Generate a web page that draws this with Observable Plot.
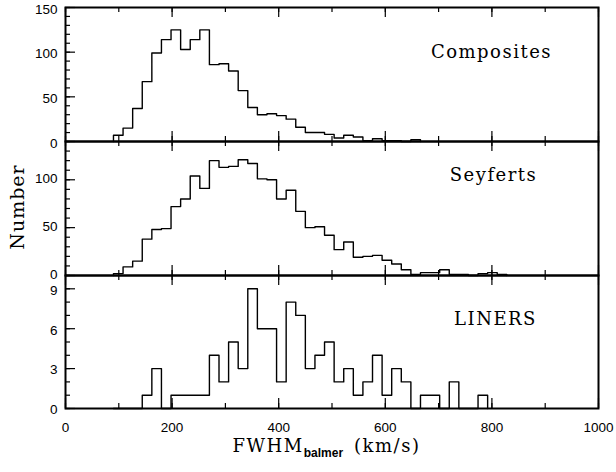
<!DOCTYPE html>
<html><head><meta charset="utf-8">
<script src="https://cdn.jsdelivr.net/npm/d3@7"></script>
<script src="https://cdn.jsdelivr.net/npm/@observablehq/plot@0.6"></script>
<style>
body{margin:0;background:#fff}
#wrap{position:relative;width:616px;height:472px;background:#fff;font-family:"Liberation Sans",Arial,sans-serif;overflow:hidden}
#wrap svg{position:absolute;left:0;overflow:visible;background:transparent}
#wrap svg g[aria-label="text"] text{letter-spacing:1.5px}
.xlab{position:absolute;left:0;width:653px;text-align:center;top:435px;font-family:"DejaVu Serif",serif;font-size:18px;letter-spacing:1.5px;color:#000;white-space:nowrap}
.xlab sub{font-family:"Liberation Sans",Arial,sans-serif;font-weight:bold;font-size:12px;letter-spacing:0;vertical-align:-5px;margin-right:11px}
.ylab{position:absolute;left:17px;top:207px;transform:translate(-50%,-50%) rotate(-90deg);font-family:"DejaVu Serif",serif;font-size:19px;letter-spacing:1px;white-space:nowrap}
</style></head><body><div id="wrap"></div>
<script>
// Histogram bins (km/s)
const binStart = 90;
const binWidth = 18;
// Counts per bin
const composites = [7,15,37,67,99,114,125,103,114,125,86,87,79,57,38,30,31,29,25,16,10,10,8,4,7,5,1,3,1,1,0,2];
const seyferts = [2,9,15,38,48,49,72,80,104,91,120,113,114,121,117,101,100,80,89,67,50,51,42,27,35,19,20,21,16,12,6,1,3,3,6,1,1,0,2,3,1];
const liners = [0,0,0,1,3,0,1,1,1,1,4,2,5,3,9,6,6,2,8,7,3,4,5,2,3,1,2,4,1,3,2,0,1,1,0,2,0,0,1];
// Tick labels
const xTickLabels = [0,200,400,600,800,1000];
const compositesTicks = [0,50,100,150];
const seyfertsTicks = [0,50,100];
const linersTicks = [0,3,6,9];
const panelNames = ["Composites","Seyferts","LINERS"];

const W = 616, mL = 65, mR = 18;
const innerW = W - mL - mR;

function steps(counts){
  const pts = [{x: binStart, y: 0}];
  counts.forEach((c,i) => pts.push({x: binStart + i*binWidth, y: c}));
  pts.push({x: binStart + counts.length*binWidth, y: 0});
  return pts;
}

function panel(o){
  const innerH = o.height - o.marginTop - o.marginBottom;
  const xMinor = d3.range(0, 1001, 100);
  const xMajor = xMinor.filter(v => v % 200 === 0);
  const yMinor = d3.range(0, o.yMax + 1e-9, o.yMinorStep);
  const marks = [
    Plot.ruleX(xMinor, {x: d => d, insetTop: innerH - 5, strokeWidth: 1.2}),
    Plot.ruleX(xMinor, {x: d => d, insetBottom: innerH - 5, strokeWidth: 1.2}),
    Plot.ruleX(xMajor, {x: d => d, insetTop: innerH - 10, strokeWidth: 1.2}),
    Plot.ruleX(xMajor, {x: d => d, insetBottom: innerH - 10, strokeWidth: 1.2}),
    Plot.ruleY(yMinor, {y: d => d, insetRight: innerW - 5, strokeWidth: 1.2}),
    Plot.ruleY(o.yTicks, {y: d => d, insetRight: innerW - 10, strokeWidth: 1.2}),
    Plot.lineY(steps(o.counts), {x: "x", y: "y", curve: "step-after", stroke: "black", strokeWidth: 1.4}),
    Plot.axisY(o.yTicks, {tickSize: 0, tickPadding: 8, fontSize: 13.5, dy: o.labelDy, label: null, tickFormat: d => String(d)}),
    Plot.frame({strokeWidth: 2}),
    Plot.text([o.name], {text: d => d, frameAnchor: "top-right", dx: o.dx, dy: o.dy, textAnchor: "middle", lineAnchor: "middle", fontFamily: "DejaVu Serif", fontSize: 18})
  ];
  if (o.xLabels) marks.push(Plot.axisX(xTickLabels, {tickSize: 0, tickPadding: 14, fontSize: 13.5, label: null, tickFormat: d => String(d)}));
  const svg = Plot.plot({
    width: W, height: o.height,
    marginLeft: mL, marginRight: mR, marginTop: o.marginTop, marginBottom: o.marginBottom,
    style: {fontFamily: "Liberation Sans, Arial, sans-serif", fontSize: "14px", color: "black", background: "transparent", overflow: "visible"},
    x: {domain: [0, 1000], axis: o.xLabels ? undefined : null},
    y: {domain: [0, o.yMax]},
    marks
  });
  svg.style.top = o.top + "px";
  return svg;
}

const wrap = document.getElementById("wrap");
wrap.append(panel({counts: composites, yMax: 150, yTicks: compositesTicks, yMinorStep: 10, height: 141, marginTop: 7, marginBottom: 0, top: 0, name: panelNames[0], dx: -107, dy: 45, labelDy: 2}));
wrap.append(panel({counts: seyferts, yMax: 140, yTicks: seyfertsTicks, yMinorStep: 10, height: 134, marginTop: 0, marginBottom: 0, top: 141, name: panelNames[1], dx: -105, dy: 34, labelDy: -1}));
wrap.append(panel({counts: liners, yMax: 10, yTicks: linersTicks, yMinorStep: 1, height: 197, marginTop: 0, marginBottom: 64, top: 275, name: panelNames[2], dx: -103, dy: 44, labelDy: 1.5, xLabels: true}));

const xl = document.createElement("div");
xl.className = "xlab";
xl.innerHTML = "FWHM<sub>balmer</sub>(km/s)";
wrap.append(xl);
const yl = document.createElement("div");
yl.className = "ylab";
yl.textContent = "Number";
wrap.append(yl);
</script></body></html>
